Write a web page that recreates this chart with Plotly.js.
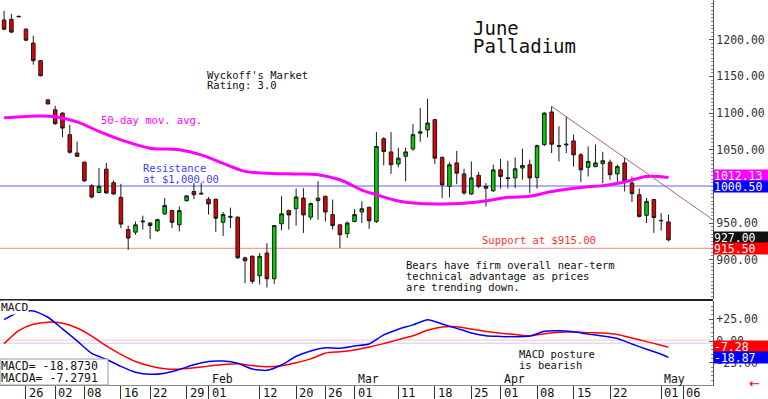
<!DOCTYPE html>
<html><head><meta charset="utf-8">
<script src="https://cdn.plot.ly/plotly-3.0.1.min.js"></script>
<style>html,body{margin:0;padding:0;background:#fff;}#chart{width:768px;height:399px;}</style>
</head><body><div id="chart"></div>
<script>
// ---- trading sessions (x categories) ----
const sessions = [
"2023-12-20","2023-12-21","2023-12-22","2023-12-26","2023-12-27","2023-12-28","2023-12-29",
"2024-01-02","2024-01-03","2024-01-04","2024-01-05","2024-01-08","2024-01-09","2024-01-10","2024-01-11","2024-01-12","2024-01-16","2024-01-17","2024-01-18","2024-01-19","2024-01-22","2024-01-23","2024-01-24","2024-01-25","2024-01-26","2024-01-29","2024-01-30","2024-01-31",
"2024-02-01","2024-02-02","2024-02-05","2024-02-06","2024-02-07","2024-02-08","2024-02-09","2024-02-12","2024-02-13","2024-02-14","2024-02-15","2024-02-16","2024-02-20","2024-02-21","2024-02-22","2024-02-23","2024-02-26","2024-02-27","2024-02-28","2024-02-29",
"2024-03-01","2024-03-04","2024-03-05","2024-03-06","2024-03-07","2024-03-08","2024-03-11","2024-03-12","2024-03-13","2024-03-14","2024-03-15","2024-03-18","2024-03-19","2024-03-20","2024-03-21","2024-03-22","2024-03-25","2024-03-26","2024-03-27","2024-03-28",
"2024-04-01","2024-04-02","2024-04-03","2024-04-04","2024-04-05","2024-04-08","2024-04-09","2024-04-10","2024-04-11","2024-04-12","2024-04-15","2024-04-16","2024-04-17","2024-04-18","2024-04-19","2024-04-22","2024-04-23","2024-04-24","2024-04-25","2024-04-26","2024-04-29","2024-04-30",
"2024-05-01","2024-05-02","2024-05-03","2024-05-06","2024-05-07","2024-05-08","2024-05-09","2024-05-10"];

// ---- June Palladium daily OHLC ----
const opens = [1227,1228,1232,1214.5,1195.5,1171.5,1118,
1104.5,1100,1070.5,1045.5,1033,1001,991.5,1023.5,1005,985,941,937.5,951.5,950,939.5,962.5,967,947.5,980.5,993,989.5,
982.5,982.5,951,959,958,902.5,904.5,878,909,874,949,967,969.5,984,958,980.5,986.5,961.5,947.5,935.5,
952,965,971.5,952,1065,1047,1030.5,1041,1051,1072.5,1077,1091,1039.5,1000,1032,1017,989.5,1015,1000,994,
1022.5,1010.5,1011.5,1025,1029.5,1012,1057,1101.5,1054.5,1056.5,1062,1043,1026,1027,1031,1033,1017,1032,1004.5,988.5,960.5,982,
953,951.5];
const highs = [1239.5,1235.5,1233,1216,1205.5,1172,1119,
1110,1101,1084,1061,1034,1003,1025,1032,1008,1003.5,946.5,952,960,951,956,984,968,972.5,988,1004.5,1004.5,
985.5,983,965,971,959,904,906,909,922.5,947,986.5,968,997,997.5,978,1007,987,982,948,952,
969,979.5,972,1074,1067,1074,1052.5,1053,1085,1107,1119.5,1092,1041,1033,1048.5,1024,1034,1020,1004.5,1029.5,
1037.5,1035,1039.5,1051.5,1036.5,1057,1101,1109,1082,1095.5,1070.5,1045.5,1054.5,1057,1047,1036.5,1029.5,1039.5,1013.5,997,984,983,
963.5,961.5];
const lows = [1213,1209,1231,1198,1166,1150,1112,
1084,1067,1044.5,1040,1006,983.5,991,990,989,943,913.5,934,941,928,938,961,943,938.5,979,982.5,989,
961.5,938,932.5,943,901,868,867,866,862,867,940,941,946.5,936.5,954,954.5,952,941,916,929.5,
951,950,942,950,1028.5,1017,1026,1007,1048.5,1061,1067,1030.5,984,985,1003,988.5,988.5,997.5,972.5,992.5,
997,997,997.5,1009,991,997,1055,1045.5,1034,1045.5,1027,1006,1013.5,1026,1004.5,1009,1006,993,978.5,957.5,950,936.5,
939.5,925];
const closes = [1214.5,1210.5,1231.5,1199.5,1171.5,1151,1112.5,
1085.5,1079.5,1046.5,1041,1007.5,985.5,1000,991,989.5,948.5,929.5,947.5,952.5,946.5,954.5,974,951,967,987,988.5,990.5,
976,956.5,961.5,958,902.5,898.5,870.5,904.5,874,946.5,962.5,961,985.5,961,976.5,984,965,946.5,934,950,
961.5,969.5,953,1054.5,1047.5,1029.5,1038.5,1047,1070.5,1074.5,1086.5,1038.5,1002,1029.5,1018,991,1011.5,1000,997.5,1022.5,
1013.5,1011.5,1024,1028.5,1011.5,1055.5,1100,1057.5,1055.5,1057.5,1043,1022.5,1034,1032,1035,1016,1027,1007.5,990,959,979.5,957.5,
953.5,927];
const candleDates = sessions.slice(0, closes.length);

// ---- 50-day moving average ----
const maDates = ["2023-12-20","2023-12-26","2024-01-02","2024-01-05","2024-01-10","2024-01-16","2024-01-22","2024-01-26","2024-01-31","2024-02-05","2024-02-08","2024-02-13","2024-02-20","2024-02-23","2024-02-28","2024-03-04","2024-03-06","2024-03-11","2024-03-14","2024-03-19","2024-03-22","2024-03-27","2024-04-02","2024-04-05","2024-04-10","2024-04-16","2024-04-19","2024-04-24","2024-04-29","2024-05-02"];
const maValues = [1093.5,1095.5,1095,1088,1075,1063.5,1052,1050,1043,1031.5,1020.5,1018,1017,1016,1009,995,988.5,980,976.5,976,977,980,985,986.5,993,998.5,1001,1006,1013.5,1012];

// ---- trend line, support / resistance ----
const trendDates = ["2024-04-10","2024-05-10"];
const trendValues = [1109, 955];
const resistance = 1000.5;
const support = 915.5;
const maLast = 1012.13;
const lastClose = 927.00;

// ---- MACD panel ----
const macdDates = ["2023-12-20","2023-12-22","2023-12-27","2023-12-29","2024-01-03","2024-01-05","2024-01-09","2024-01-11","2024-01-16","2024-01-18","2024-01-22","2024-01-24","2024-01-26","2024-01-30","2024-02-01","2024-02-05","2024-02-07","2024-02-09","2024-02-13","2024-02-15","2024-02-20","2024-02-22","2024-02-26","2024-02-28","2024-03-01","2024-03-05","2024-03-07","2024-03-11","2024-03-13","2024-03-15","2024-03-19","2024-03-21","2024-03-25","2024-03-27","2024-04-01","2024-04-03","2024-04-05","2024-04-09","2024-04-11","2024-04-15","2024-04-17","2024-04-19","2024-04-23","2024-04-25","2024-04-29","2024-05-01","2024-05-02"];
const macdValues = [24.5,33,34.5,27.3,14,0.2,-14.2,-21,-29.2,-35.9,-38.3,-37,-32.7,-27.4,-23.5,-23.1,-25.6,-32.3,-33.7,-27.6,-17.6,-11.4,-7.7,-8.3,-5.8,-3.5,7,13.6,18.5,24.5,19.6,14.5,9.3,6,5.3,4.9,5.7,11.1,11.8,10.6,7.9,5.8,2.8,-3.5,-9.5,-15.3,-18.87];
const signalValues = [-3,12,19.3,21.7,20.5,15,5.7,-5.6,-15.4,-23.6,-28.7,-31.8,-32.5,-30.9,-28.9,-27,-26.2,-28.2,-29.7,-28.4,-25,-20.6,-14,-12.3,-10.3,-7,-3,1.6,6,12.3,16,16.5,13.7,10.9,8.9,7.5,5.8,8.4,10.1,10.3,9.6,9.1,7.5,3.5,-0.7,-4.9,-7.28];
const macdLevels = [1, -2.5];

// ---- axis labels ----
const priceTicks = [900,950,1050,1100,1150,1200];
const macdTicks = [25,0,-25];
const macdTickText = ["+25.00","0.00","-25.00"];
const tickDates = ["2023-12-26","2024-01-02","2024-01-08","2024-01-16","2024-01-22","2024-01-29","2024-02-01","2024-02-12","2024-02-20","2024-02-26","2024-03-01","2024-03-11","2024-03-18","2024-03-25","2024-04-01","2024-04-08","2024-04-15","2024-04-22","2024-05-01","2024-05-06"];
const tickText = ["26","02","08","16","22","29","01","12","20","26","01","11","18","25","01","08","15","22","01","06"];
const monthDates = ["2024-02-01","2024-03-01","2024-04-01","2024-05-01"];
const monthText = ["Feb","Mar","Apr","May"];

// ---- drawing ----
const MONO = "DejaVu Sans Mono, monospace";
const PW = 713, PH = 385;
const px = x => x / PW;
const py = y => (PH - y) / PH;

const traces = [
  {type:'scatter', x:sessions, y:sessions.map(()=>null), xaxis:'x', yaxis:'y', mode:'markers', hoverinfo:'skip', showlegend:false},
  {type:'scatter', x:maDates, y:maValues, xaxis:'x', yaxis:'y', mode:'lines',
   line:{color:'#ff00ff', width:3, shape:'spline', smoothing:1}, hoverinfo:'skip'},
  {type:'candlestick', x:candleDates, open:opens, high:highs, low:lows, close:closes, xaxis:'x', yaxis:'y',
   increasing:{line:{color:'#1a1a1a', width:1}, fillcolor:'#00d000'},
   decreasing:{line:{color:'#1a1a1a', width:1}, fillcolor:'#e00000'},
   whiskerwidth:0, hoverinfo:'skip'},
  {type:'scatter', x:trendDates, y:trendValues, xaxis:'x', yaxis:'y', mode:'lines',
   line:{color:'#b0607a', width:1}, hoverinfo:'skip', cliponaxis:false},
  {type:'scatter', x:macdDates, y:signalValues, xaxis:'x', yaxis:'y2', mode:'lines',
   line:{color:'#ff0000', width:1.5, shape:'spline', smoothing:0.6}, hoverinfo:'skip'},
  {type:'scatter', x:macdDates, y:macdValues, xaxis:'x', yaxis:'y2', mode:'lines',
   line:{color:'#0000ff', width:1.5, shape:'spline', smoothing:0.6}, hoverinfo:'skip'}
];

function txt(text, x, y, color, size, extra) {
  return Object.assign({xref:'paper', yref:'paper', x:px(x), y:py(y), xanchor:'left', yanchor:'middle',
    text:text, showarrow:false, font:{family:MONO, size:size, color:color}, borderpad:0}, extra||{});
}
function lines(arr, x, y0, dy, color, size, extra) {
  return arr.map((t,i)=>txt(t, x, y0 + i*dy, color, size, extra));
}
function tag(text, yref, yv, bg, yshift) {
  return {xref:'paper', x:1, xanchor:'left', yref:yref, y:yv, yanchor:'middle', text:text, showarrow:false,
    bgcolor:bg, width:56, height:11, align:'left', borderpad:0, yshift:yshift||0,
    font:{family:MONO, size:11.5, color:'#ffffff'}};
}

const annotations = [].concat(
  lines(["June","Palladium"], 472, 28, 18, '#111', 19),
  lines(["Wyckoff's Market","Rating: 3.0"], 206, 74.5, 10.5, '#111', 10.5),
  [txt("50-day mov. avg.", 100, 119.5, '#ff00ff', 10.5)],
  lines(["Resistance","at $1,000.00"], 142, 168, 10.5, '#4040ff', 10.5),
  [txt("Support at $915.00", 481, 240, '#ff3030', 10.5)],
  lines(["Bears have firm overall near-term","technical advantage as prices","are trending down."], 405, 265, 11.2, '#111', 10.5),
  lines(["MACD posture","is bearish"], 518, 353.5, 11, '#111', 10.5),
  [txt("MACD", 0, 307, '#111', 11.3, {bgcolor:'#ffffff'})],
  lines(["MACD= -18.8730","MACDA= -7.2791"], 0, 366, 11.5, '#111', 11.5),
  monthDates.map((d,i)=>({xref:'x', x:d, yref:'paper', y:py(379), xanchor:'left', yanchor:'middle', xshift:1,
     text:monthText[i], showarrow:false, font:{family:MONO, size:11.5, color:'#111'}})),
  tickDates.map((d,i)=>({xref:'x', x:d, yref:'paper', y:py(392.5), xanchor:'left', yanchor:'middle', xshift:1,
     text:tickText[i], showarrow:false, font:{family:MONO, size:12, color:'#111'}})),
  [tag(maLast.toFixed(2), 'y', maLast, '#ff00ff', 2),
   tag(resistance.toFixed(2), 'y', resistance, '#0000ff', 0),
   tag(lastClose.toFixed(2), 'y', lastClose, '#111111', 2),
   tag(support.toFixed(2), 'y', support, '#ff0000', 0),
   tag(signalValues[signalValues.length-1].toFixed(2), 'y2', signalValues[signalValues.length-1], '#ff0000', 1),
   tag(macdValues[macdValues.length-1].toFixed(2), 'y2', macdValues[macdValues.length-1], '#0000ff', 0),
   {xref:'paper', yref:'paper', x:px(762), y:py(393), text:'\u2190', showarrow:false,
    font:{family:'DejaVu Sans', size:13, color:'#ff0000'}}]
);

const shapes = [
  {type:'line', xref:'paper', x0:0, x1:1, yref:'y', y0:resistance, y1:resistance, line:{color:'#6060ff', width:1}, layer:'below'},
  {type:'line', xref:'paper', x0:0, x1:1, yref:'y', y0:support, y1:support, line:{color:'#ff8080', width:1}, layer:'below'},
  {type:'line', xref:'paper', x0:0, x1:1, yref:'y2', y0:macdLevels[0], y1:macdLevels[0], line:{color:'#ffc0c0', width:1}, layer:'below'},
  {type:'line', xref:'paper', x0:0, x1:1, yref:'y2', y0:macdLevels[1], y1:macdLevels[1], line:{color:'#c8c8ff', width:1}, layer:'below'},
  {type:'line', xref:'paper', x0:0, x1:1, yref:'paper', y0:py(300), y1:py(300), line:{color:'#222', width:2}},
  {type:'rect', xref:'paper', x0:0, x1:px(108), yref:'paper', y0:py(385), y1:py(359), line:{color:'#999', width:1}, fillcolor:'#ffffff'}
];

const layout = {
  width:768, height:399, margin:{l:0, r:55, t:0, b:14},
  paper_bgcolor:'#ffffff', plot_bgcolor:'#ffffff', showlegend:false,
  xaxis:{type:'category', categoryorder:'array', categoryarray:sessions, range:[-0.56, 97.1], anchor:'y2',
    showgrid:false, zeroline:false, showline:true, linecolor:'#888', linewidth:1,
    ticks:'outside', ticklen:14, tickcolor:'#333', tickwidth:1,
    tickmode:'array', tickvals:tickDates, ticktext:tickText, showticklabels:false,
    rangeslider:{visible:false}, fixedrange:true},
  yaxis:{domain:[py(299), 1], range:[846.3, 1254.3], side:'right', anchor:'x',
    showgrid:false, zeroline:false, showline:true, linecolor:'#555', linewidth:1,
    ticks:'inside', ticklen:4, tickcolor:'#555', tickmode:'array', tickvals:priceTicks, tickformat:'.2f',
    tickfont:{family:MONO, size:11.5, color:'#333'},
    minor:{dtick:5, ticks:'inside', ticklen:2, tickcolor:'#888'}, fixedrange:true},
  yaxis2:{domain:[0, py(301)], range:[-50.6, 46], side:'right', anchor:'x',
    showgrid:false, zeroline:false, showline:true, linecolor:'#555', linewidth:1,
    ticks:'inside', ticklen:4, tickcolor:'#555', tickmode:'array', tickvals:macdTicks, ticktext:macdTickText,
    tickfont:{family:MONO, size:11.5, color:'#333'},
    minor:{dtick:5, ticks:'inside', ticklen:2, tickcolor:'#888'}, fixedrange:true},
  annotations:annotations, shapes:shapes
};

Plotly.newPlot('chart', traces, layout, {staticPlot:true, displayModeBar:false});
</script>
</body></html>
